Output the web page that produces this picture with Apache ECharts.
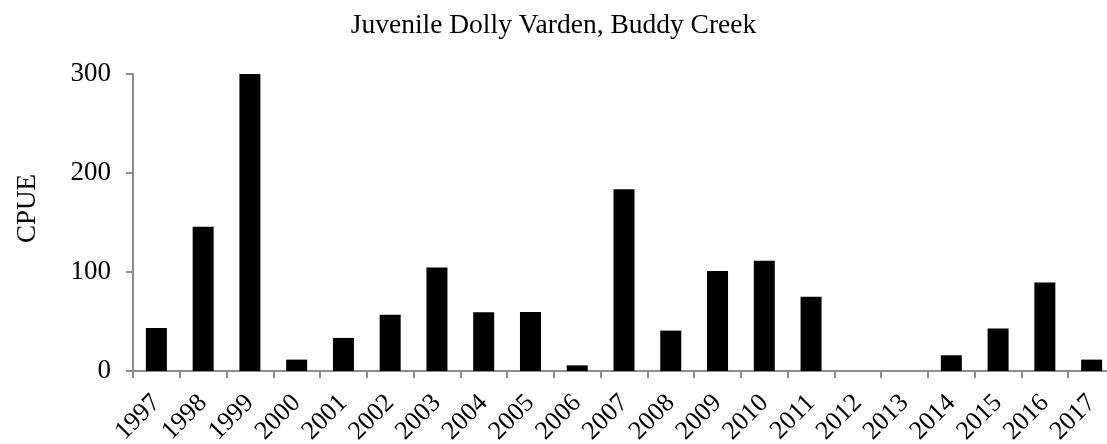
<!DOCTYPE html>
<html>
<head>
<meta charset="utf-8">
<style>
  html, body { margin: 0; padding: 0; background: #ffffff; }
  #chart { width: 1107px; height: 444px; }
</style>
<script src="https://cdn.jsdelivr.net/npm/echarts@6/dist/echarts.min.js"></script>
</head>
<body>
<div id="chart"></div>
<script>
const titleText = "Juvenile Dolly Varden, Buddy Creek";
const yAxisName = "CPUE";
const years = ["1997","1998","1999","2000","2001","2002","2003","2004","2005","2006","2007",
               "2008","2009","2010","2011","2012","2013","2014","2015","2016","2017"];
const cpue = [43.5, 145.8, 300, 11.5, 33.4, 56.7, 104.6, 59.4, 59.7, 5.7, 183.6,
              40.8, 100.9, 111.4, 74.9, 0, 0, 15.9, 42.9, 89.4, 11.5];
const yMin = 0, yMax = 300, yStep = 100;

const serif = "'Liberation Serif', 'Times New Roman', serif";
const axisGray = "#8c8c8c";

const chart = echarts.init(document.getElementById('chart'), null, { renderer: 'canvas' });
chart.setOption({
  animation: false,
  backgroundColor: '#ffffff',
  title: {
    text: titleText,
    left: 'center',
    top: 7,
    textStyle: { fontFamily: serif, fontSize: 27.5, fontWeight: 'normal', color: '#000' }
  },
  grid: { left: 133, right: -8, top: 74, bottom: 73, containLabel: false, outerBoundsMode: 'none' },
  xAxis: {
    type: 'category',
    data: years,
    boundaryGap: true,
    axisLine: { show: true, lineStyle: { color: axisGray, width: 2 } },
    axisTick: { show: true, length: 7, lineStyle: { color: axisGray, width: 2 } },
    axisLabel: {
      rotate: 45, interval: 0, margin: 28,
      fontFamily: serif, fontSize: 26, color: '#000'
    }
  },
  yAxis: {
    type: 'value',
    min: yMin, max: yMax, interval: yStep,
    name: yAxisName,
    nameLocation: 'middle',
    nameRotate: 90,
    nameGap: 92,
    nameTextStyle: { fontFamily: serif, fontSize: 27, color: '#000', padding: [0, 0, 0, 28] },
    splitLine: { show: false },
    axisLine: { show: true, lineStyle: { color: axisGray, width: 2 } },
    axisTick: { show: true, length: 7, lineStyle: { color: axisGray, width: 2 } },
    axisLabel: { margin: 22, fontFamily: serif, fontSize: 27, color: '#000' }
  },
  series: [{
    type: 'bar',
    data: cpue,
    barWidth: 21,
    itemStyle: { color: '#000000' }
  }]
});
</script>
</body>
</html>
